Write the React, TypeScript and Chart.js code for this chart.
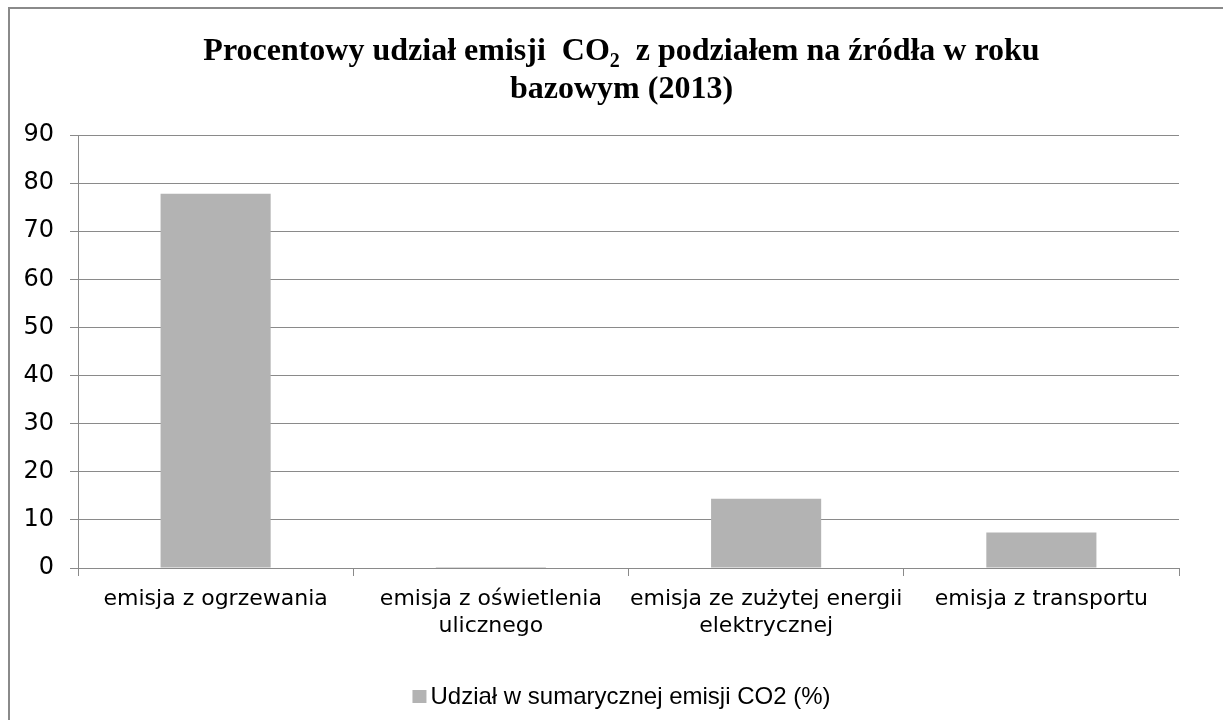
import React, { useEffect, useRef } from 'react';
import { Chart, registerables } from 'chart.js';

Chart.register(...registerables);

const categories: string[][] = [
  ['emisja z ogrzewania'],
  ['emisja z oświetlenia', 'ulicznego'],
  ['emisja ze zużytej energii', 'elektrycznej'],
  ['emisja z transportu'],
];
const seriesLabel = 'Udział w sumarycznej emisji CO2 (%)';
const seriesValues = [77.8, 0.2, 14.4, 7.4];
const yMin = 0;
const yMax = 90;
const yStep = 10;
const titleLine1 = ['Procentowy udział emisji  CO', '2', '  z podziałem na źródła w roku'];
const titleLine2 = 'bazowym (2013)';

const GRID = '#8a8a8a';
const BAR = '#b3b3b3';

const titlePlugin = {
  id: 'customTitle',
  afterDraw(chart: any) {
    const ctx = chart.ctx as CanvasRenderingContext2D;
    const cx = chart.width / 2;
    ctx.save();
    ctx.fillStyle = '#000';
    ctx.textBaseline = 'middle';
    ctx.textAlign = 'left';
    const big = 'bold 32px "Liberation Serif"';
    const small = 'bold 20px "Liberation Serif"';
    ctx.font = big;
    const w0 = ctx.measureText(titleLine1[0]).width;
    const w2 = ctx.measureText(titleLine1[2]).width;
    ctx.font = small;
    const w1 = ctx.measureText(titleLine1[1]).width;
    const total = w0 + w1 + w2;
    let x = cx - total / 2;
    const y1 = 43;
    ctx.font = big;
    ctx.fillText(titleLine1[0], x, y1);
    x += w0;
    ctx.font = small;
    ctx.fillText(titleLine1[1], x, y1 + 10);
    x += w1;
    ctx.font = big;
    ctx.fillText(titleLine1[2], x, y1);
    ctx.textAlign = 'center';
    ctx.fillText(titleLine2, cx, 81);
    ctx.restore();
  },
};

const legendPlugin = {
  id: 'customLegend',
  afterDraw(chart: any) {
    const ctx = chart.ctx as CanvasRenderingContext2D;
    const ds = chart.data.datasets[0];
    ctx.save();
    ctx.font = '24px "Liberation Sans"';
    const tw = ctx.measureText(ds.label).width;
    const box = 14;
    const gap = 4;
    const total = box + gap + tw;
    const x0 = chart.width / 2 - total / 2;
    const cy = chart.chartArea.bottom + 129;
    ctx.fillStyle = ds.backgroundColor;
    ctx.fillRect(x0, cy - 7, box, 13);
    ctx.fillStyle = '#000';
    ctx.textBaseline = 'middle';
    ctx.textAlign = 'left';
    ctx.fillText(ds.label, x0 + box + gap, cy);
    ctx.restore();
  },
};

export default function App() {
  const ref = useRef<HTMLCanvasElement | null>(null);
  useEffect(() => {
    if (!ref.current) return;
    const chart = new Chart(ref.current, {
      type: 'bar',
      data: {
        labels: categories,
        datasets: [
          {
            label: seriesLabel,
            data: seriesValues,
            backgroundColor: BAR,
            borderWidth: 0,
            categoryPercentage: 0.4,
            barPercentage: 1.0,
          },
        ],
      },
      options: {
        animation: false,
        responsive: false,
        maintainAspectRatio: false,
        devicePixelRatio: 1,
        layout: { padding: { top: 126, left: 0, right: 54, bottom: 52 } },
        plugins: {
          title: { display: false },
          tooltip: { enabled: false },
          legend: { display: false },
        },
        scales: {
          x: {
            grid: {
              display: true,
              drawOnChartArea: false,
              drawTicks: true,
              tickLength: 8,
              color: GRID,
              offset: true,
            },
            border: { display: true, color: GRID },
            ticks: {
              color: '#000',
              padding: 10,
              maxRotation: 0,
              autoSkip: false,
              font: { family: '"DejaVu Sans"', size: 22, lineHeight: 1.22 },
            },
            afterFit(scale: any) {
              scale.height = 109;
            },
          },
          y: {
            min: yMin,
            max: yMax,
            ticks: {
              stepSize: yStep,
              color: '#000',
              padding: 16,
              font: { family: '"DejaVu Sans"', size: 24 },
            },
            grid: {
              color: GRID,
              tickLength: 8,
              drawTicks: true,
            },
            border: { display: true, color: GRID },
            afterFit(scale: any) {
              scale.width = 68;
            },
          },
        },
      },
      plugins: [titlePlugin, legendPlugin],
    });
    return () => chart.destroy();
  }, []);

  return (
    <div style={{ position: 'fixed', inset: 0, overflow: 'hidden', background: '#fff' }}>
      <div
        style={{
          position: 'absolute',
          left: 8,
          top: 7,
          width: 1223,
          height: 760,
          border: '2px solid #8a8a8a',
          background: '#fff',
        }}
      >
        <canvas ref={ref} width={1223} height={720} style={{ display: 'block', width: 1223, height: 720 }} />
      </div>
    </div>
  );
}
